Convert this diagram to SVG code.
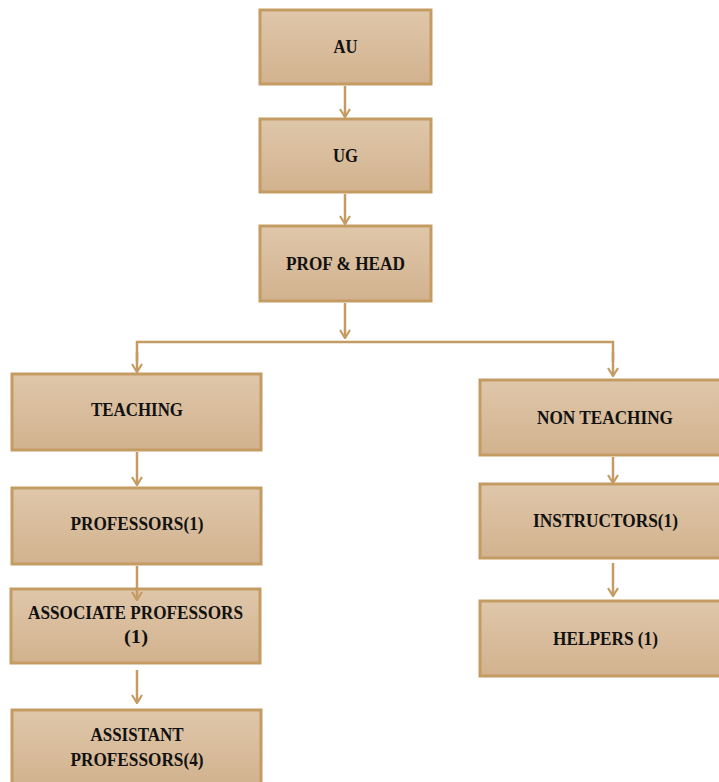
<svg xmlns="http://www.w3.org/2000/svg" width="719" height="782" viewBox="0 0 719 782">
<defs>
<linearGradient id="g" x1="0" y1="0" x2="0" y2="1">
<stop offset="0" stop-color="#dfc7aa"/>
<stop offset="1" stop-color="#d2b28e"/>
</linearGradient>
<marker id="ah" viewBox="0 0 12 12" refX="11" refY="6" markerWidth="12" markerHeight="12" markerUnits="userSpaceOnUse" orient="auto">
<polyline points="3,1 11,6 3,11" fill="none" stroke="#c49b62" stroke-width="2.2"/>
</marker>
</defs>
<style>
.box{fill:url(#g);stroke:#c49b62;stroke-width:3}
.t{font-family:"Liberation Serif","Times New Roman",serif;font-weight:bold;font-size:19px;fill:#111;text-anchor:middle}
.c{fill:none;stroke:#c49b62;stroke-width:2.5}
</style>
<rect width="719" height="782" fill="#fff"/>
<g id="au"><rect class="box" x="260" y="10" width="171" height="74"/><text class="t" x="345.5" y="53" textLength="24" lengthAdjust="spacingAndGlyphs">AU</text></g>
<g id="ug"><rect class="box" x="260" y="119" width="171" height="73"/><text class="t" x="345.5" y="162" textLength="25" lengthAdjust="spacingAndGlyphs">UG</text></g>
<g id="profhead"><rect class="box" x="260" y="226" width="171" height="75"/><text class="t" x="345.5" y="270" textLength="119" lengthAdjust="spacingAndGlyphs">PROF &amp; HEAD</text></g>
<g id="teaching"><rect class="box" x="12" y="374" width="249" height="76"/><text class="t" x="137" y="416" textLength="92" lengthAdjust="spacingAndGlyphs">TEACHING</text></g>
<g id="nonteaching"><rect class="box" x="480" y="380" width="252" height="75"/><text class="t" x="605" y="424" textLength="136" lengthAdjust="spacingAndGlyphs">NON TEACHING</text></g>
<g id="professors"><rect class="box" x="12" y="488" width="249" height="76"/><text class="t" x="137" y="530" textLength="133" lengthAdjust="spacingAndGlyphs">PROFESSORS(1)</text></g>
<g id="associate"><rect class="box" x="11" y="589" width="249" height="74"/><text class="t" x="135.5" y="619" textLength="215" lengthAdjust="spacingAndGlyphs">ASSOCIATE PROFESSORS</text><text class="t" x="136" y="643" textLength="24" lengthAdjust="spacingAndGlyphs">(1)</text></g>
<g id="assistant"><rect class="box" x="12" y="710" width="249" height="76"/><text class="t" x="137" y="741" textLength="93" lengthAdjust="spacingAndGlyphs">ASSISTANT</text><text class="t" x="137" y="766" textLength="133" lengthAdjust="spacingAndGlyphs">PROFESSORS(4)</text></g>
<g id="instructors"><rect class="box" x="480" y="484" width="252" height="74"/><text class="t" x="605.5" y="527" textLength="145" lengthAdjust="spacingAndGlyphs">INSTRUCTORS(1)</text></g>
<g id="helpers"><rect class="box" x="480" y="601" width="252" height="75"/><text class="t" x="605.5" y="645" textLength="105" lengthAdjust="spacingAndGlyphs">HELPERS (1)</text></g>
<g id="connectors">
<line class="c" x1="345" y1="86" x2="345" y2="117" marker-end="url(#ah)"/>
<line class="c" x1="345" y1="194" x2="345" y2="224" marker-end="url(#ah)"/>
<line class="c" x1="345" y1="303" x2="345" y2="338" marker-end="url(#ah)"/>
<polyline class="c" points="137,362 137,342 613,342 613,362"/>
<line class="c" x1="137" y1="352" x2="137" y2="372" marker-end="url(#ah)"/>
<line class="c" x1="613" y1="352" x2="613" y2="376" marker-end="url(#ah)"/>
<line class="c" x1="137" y1="452" x2="137" y2="485" marker-end="url(#ah)"/>
<line class="c" x1="137" y1="566" x2="137" y2="600" marker-end="url(#ah)"/>
<line class="c" x1="137" y1="670" x2="137" y2="703" marker-end="url(#ah)"/>
<line class="c" x1="613" y1="457" x2="613" y2="483" marker-end="url(#ah)"/>
<line class="c" x1="613" y1="563" x2="613" y2="596" marker-end="url(#ah)"/>
</g>
</svg>
